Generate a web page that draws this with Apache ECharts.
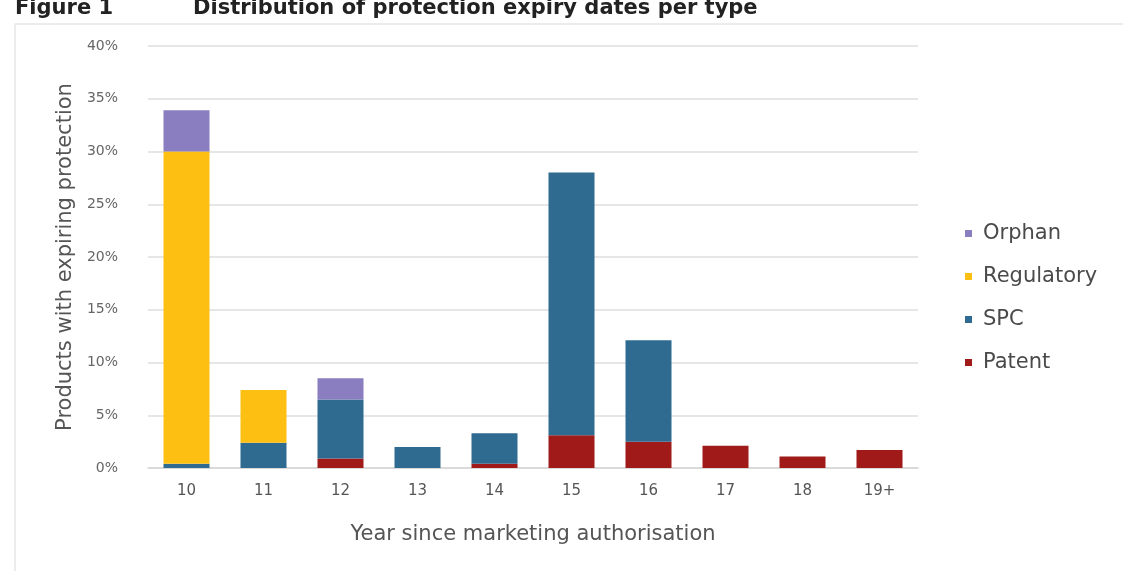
<!DOCTYPE html>
<html>
<head>
<meta charset="utf-8">
<script src="https://cdn.jsdelivr.net/npm/echarts@6/dist/echarts.min.js"></script>
<style>
  html, body { margin: 0; padding: 0; background: #fff; }
  #chart { width: 1123px; height: 571px; }
</style>
</head>
<body>
<div id="chart"></div>
<script>
// Years since marketing authorisation
const categories = ['10', '11', '12', '13', '14', '15', '16', '17', '18', '19+'];

// Share of products with expiring protection (%), by protection type
const patent     = [0.0, 0.0, 0.9, 0.0, 0.4, 3.1, 2.5, 2.1, 1.1, 1.7];
const spc        = [0.4, 2.4, 5.6, 2.0, 2.9, 24.9, 9.6, 0.0, 0.0, 0.0];
const regulatory = [29.6, 5.0, 0.0, 0.0, 0.0, 0.0, 0.0, 0.0, 0.0, 0.0];
const orphan     = [3.9, 0.0, 2.0, 0.0, 0.0, 0.0, 0.0, 0.0, 0.0, 0.0];

const yTicks = [0, 5, 10, 15, 20, 25, 30, 35, 40];

const colors = {
  Orphan: '#8a7dc0',
  Regulatory: '#fcbf12',
  SPC: '#2f6a91',
  Patent: '#a11a1a'
};

const textFont = '"DejaVu Sans", Verdana, sans-serif';
const titleFont = 'bold 21px "DejaVu Sans", Verdana, sans-serif';

function barSeries(name, data) {
  return {
    name: name,
    type: 'bar',
    stack: 'total',
    data: data,
    barWidth: 46,
    itemStyle: { color: colors[name] },
    emphasis: { disabled: true }
  };
}

const chart = echarts.init(document.getElementById('chart'), null, { renderer: 'canvas' });

chart.setOption({
  animation: false,
  backgroundColor: '#ffffff',
  graphic: [
    {
      type: 'text', x: 15, y: 9,
      style: { text: 'Figure 1', font: titleFont, fill: '#222', verticalAlign: 'middle' }
    },
    {
      type: 'text', x: 193, y: 9,
      style: { text: 'Distribution of protection expiry dates per type', font: titleFont, fill: '#222', verticalAlign: 'middle' }
    },
    {
      type: 'polyline',
      shape: { points: [[15, 571], [15, 24], [1123, 24]] },
      style: { stroke: '#e6e6e6', lineWidth: 1.5, fill: null },
      silent: true
    }
  ],
  legend: {
    orient: 'vertical',
    left: 960,
    top: 218,
    itemGap: 22,
    itemWidth: 7,
    itemHeight: 7,
    icon: 'rect',
    data: ['Orphan', 'Regulatory', 'SPC', 'Patent'],
    textStyle: { fontFamily: textFont, fontSize: 21, color: '#4a4a4a', padding: [0, 0, 0, 6] }
  },
  grid: { left: 148, right: 205, top: 46, bottom: 103, containLabel: false },
  xAxis: {
    type: 'category',
    data: categories,
    name: 'Year since marketing authorisation',
    nameLocation: 'middle',
    nameGap: 56,
    nameTextStyle: { fontFamily: textFont, fontSize: 21, color: '#555' },
    axisLine: { show: true, lineStyle: { color: '#d6d6d6', width: 1.5 } },
    axisTick: { show: false },
    axisLabel: { fontFamily: textFont, fontSize: 15, color: '#555', margin: 16 }
  },
  yAxis: {
    type: 'value',
    min: 0,
    max: 40,
    interval: 5,
    name: 'Products with expiring protection',
    nameLocation: 'middle',
    nameGap: 72,
    nameTextStyle: { fontFamily: textFont, fontSize: 21, color: '#555' },
    axisLine: { show: false },
    axisTick: { show: false },
    splitLine: { lineStyle: { color: '#dedede', width: 1.5 } },
    axisLabel: {
      fontFamily: textFont, fontSize: 14, color: '#666', margin: 30,
      formatter: function (v) { return yTicks.indexOf(v) >= 0 ? v + '%' : ''; }
    }
  },
  series: [
    barSeries('Patent', patent),
    barSeries('SPC', spc),
    barSeries('Regulatory', regulatory),
    barSeries('Orphan', orphan)
  ]
});
</script>
</body>
</html>
